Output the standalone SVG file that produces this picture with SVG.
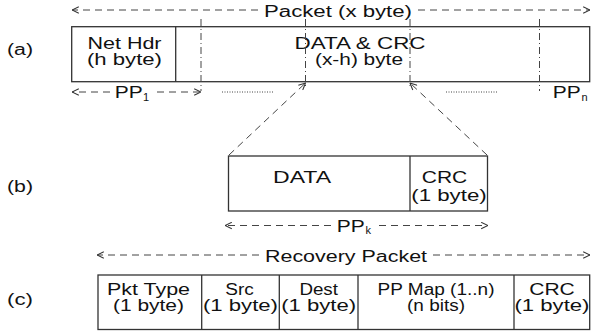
<svg xmlns="http://www.w3.org/2000/svg" width="592" height="335" viewBox="0 0 592 335">
<defs>
<style>
.t{font-family:"Liberation Sans",Arial,sans-serif;font-size:16px;fill:#111}
.c{text-anchor:middle}
.s{font-family:"Liberation Sans",Arial,sans-serif;font-size:11px;fill:#111}
.box{fill:#fff;stroke:#333;stroke-width:1.3}
.div{stroke:#333;stroke-width:1.3;fill:none}
.dash{stroke:#444;stroke-width:1;stroke-dasharray:7 5;fill:none}
.dd{stroke:#444;stroke-width:1;stroke-dasharray:7 3 1 3;fill:none}
.dot{stroke:#444;stroke-width:1;stroke-dasharray:1 1.5;fill:none}
</style>
<marker id="ah" viewBox="0 0 10 10" refX="9.5" refY="5" markerWidth="8" markerHeight="8" markerUnits="userSpaceOnUse" orient="auto">
<path d="M1,1 L9.5,5 L1,9" fill="none" stroke="#333" stroke-width="1.3" stroke-dasharray="none"/>
</marker>
</defs>

<g id="labels">
<text class="t c" x="20" y="55" textLength="26" lengthAdjust="spacingAndGlyphs">(a)</text>
<text class="t c" x="20" y="192" textLength="26" lengthAdjust="spacingAndGlyphs">(b)</text>
<text class="t c" x="20" y="305" textLength="26" lengthAdjust="spacingAndGlyphs">(c)</text>
</g>

<g id="packet-a">
<rect class="box" x="71.7" y="26.7" width="518" height="55"/>
<line class="div" x1="175.7" y1="26.7" x2="175.7" y2="81.7"/>
<text class="t c" x="124.5" y="49" textLength="74" lengthAdjust="spacingAndGlyphs">Net Hdr</text>
<text class="t c" x="124.5" y="64.5" textLength="75" lengthAdjust="spacingAndGlyphs">(h byte)</text>
<text class="t c" x="360" y="49" textLength="131" lengthAdjust="spacingAndGlyphs">DATA &amp; CRC</text>
<text class="t c" x="359" y="64.5" textLength="88" lengthAdjust="spacingAndGlyphs">(x-h) byte</text>
</g>

<g id="packet-b">
<rect class="box" x="228.5" y="156" width="259" height="55"/>
<line class="div" x1="410" y1="156" x2="410" y2="211"/>
<text class="t c" x="302" y="183.3" textLength="58" lengthAdjust="spacingAndGlyphs">DATA</text>
<text class="t c" x="444.5" y="183.3" textLength="45.6" lengthAdjust="spacingAndGlyphs">CRC</text>
<text class="t c" x="449" y="200.5" textLength="75.5" lengthAdjust="spacingAndGlyphs">(1 byte)</text>
</g>

<g id="packet-c">
<rect class="box" x="98" y="275" width="491.7" height="54.5"/>
<line class="div" x1="201.7" y1="275" x2="201.7" y2="329.5"/>
<line class="div" x1="279.3" y1="275" x2="279.3" y2="329.5"/>
<line class="div" x1="358" y1="275" x2="358" y2="329.5"/>
<line class="div" x1="514" y1="275" x2="514" y2="329.5"/>
<text class="t c" x="148.5" y="294.5" textLength="83" lengthAdjust="spacingAndGlyphs">Pkt Type</text>
<text class="t c" x="148.5" y="310.5" textLength="71" lengthAdjust="spacingAndGlyphs">(1 byte)</text>
<text class="t c" x="239.5" y="294.5" textLength="28.5" lengthAdjust="spacingAndGlyphs">Src</text>
<text class="t c" x="240.5" y="310.5" textLength="75" lengthAdjust="spacingAndGlyphs">(1 byte)</text>
<text class="t c" x="318.7" y="294.5" textLength="38.5" lengthAdjust="spacingAndGlyphs">Dest</text>
<text class="t c" x="318.7" y="310.5" textLength="75" lengthAdjust="spacingAndGlyphs">(1 byte)</text>
<text class="t c" x="436" y="294.5" textLength="117" lengthAdjust="spacingAndGlyphs">PP Map (1..n)</text>
<text class="t c" x="436" y="310.5" textLength="58" lengthAdjust="spacingAndGlyphs">(n bits)</text>
<text class="t c" x="552" y="294.5" textLength="45.6" lengthAdjust="spacingAndGlyphs">CRC</text>
<text class="t c" x="552" y="310.5" textLength="75" lengthAdjust="spacingAndGlyphs">(1 byte)</text>
</g>

<g id="connectors">
<line class="dash" x1="258" y1="10" x2="72" y2="10" marker-end="url(#ah)"/>
<line class="dash" x1="418" y1="10" x2="590" y2="10" marker-end="url(#ah)"/>
<text class="t c" x="338" y="16.5" textLength="148" lengthAdjust="spacingAndGlyphs">Packet (x byte)</text>
<line class="dd" x1="201" y1="19" x2="201" y2="91"/>
<line class="dd" x1="305.5" y1="19" x2="305.5" y2="89"/>
<line class="dd" x1="410" y1="19" x2="410" y2="89"/>
<line class="dd" x1="539.5" y1="19" x2="539.5" y2="91"/>
<line class="dash" x1="110" y1="92" x2="72" y2="92" marker-end="url(#ah)"/>
<line class="dash" x1="157" y1="92" x2="201" y2="92" marker-end="url(#ah)"/>
<text class="t" x="114.7" y="98" textLength="28" lengthAdjust="spacingAndGlyphs">PP</text>
<text class="s" x="143" y="101">1</text>
<line class="dot" x1="222" y1="92" x2="274" y2="92"/>
<line class="dot" x1="446" y1="92" x2="498" y2="92"/>
<text class="t" x="552.7" y="98.3" textLength="28" lengthAdjust="spacingAndGlyphs">PP</text>
<text class="s" x="581.5" y="101">n</text>
<line class="dash" x1="229" y1="155" x2="305.5" y2="83" marker-end="url(#ah)"/>
<line class="dash" x1="487" y1="155" x2="410" y2="83" marker-end="url(#ah)"/>
<line class="dash" x1="331" y1="225.5" x2="225" y2="225.5" marker-end="url(#ah)"/>
<line class="dash" x1="379" y1="225.5" x2="488" y2="225.5" marker-end="url(#ah)"/>
<text class="t" x="336.7" y="231.5" textLength="28" lengthAdjust="spacingAndGlyphs">PP</text>
<text class="s" x="365.5" y="234">k</text>
<line class="dash" x1="259" y1="255" x2="97" y2="255" marker-end="url(#ah)"/>
<line class="dash" x1="433" y1="255" x2="590" y2="255" marker-end="url(#ah)"/>
<text class="t c" x="346" y="261.5" textLength="162" lengthAdjust="spacingAndGlyphs">Recovery Packet</text>
</g>
</svg>
